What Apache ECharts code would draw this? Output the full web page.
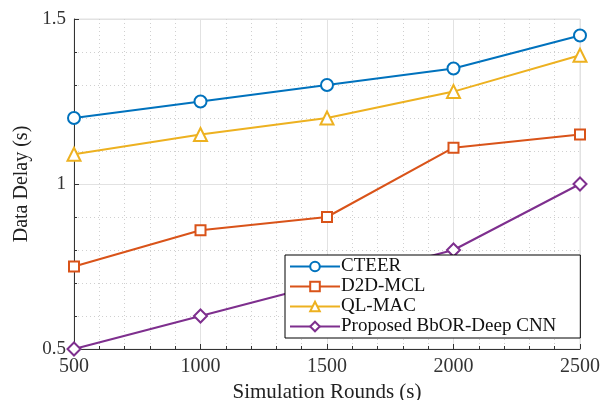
<!DOCTYPE html>
<html>
<head>
<meta charset="utf-8">
<script src="https://cdn.jsdelivr.net/npm/echarts@6/dist/echarts.min.js"></script>
<style>html,body{margin:0;padding:0;background:#fff}#c{width:603px;height:400px}</style>
</head>
<body>
<div id="c"></div>
<script>
const rounds = [500, 1000, 1500, 2000, 2500];
const cteer = [1.20, 1.25, 1.30, 1.35, 1.45];
const d2dmcl = [0.75, 0.86, 0.90, 1.11, 1.15];
const qlmac = [1.09, 1.15, 1.20, 1.28, 1.39];
const proposed = [0.50, 0.60, 0.70, 0.80, 1.00];
const seriesNames = ['CTEER', 'D2D-MCL', 'QL-MAC', 'Proposed BbOR-Deep CNN'];
const colors = ['#0072BD', '#D95319', '#EDB120', '#7E2F8E'];
const symbols = ['circle', 'rect', 'triangle', 'diamond'];
const symbolSizes = [12, 10, 13, 13];
const values = [cteer, d2dmcl, qlmac, proposed];

const font = 'Liberation Serif, Times New Roman, serif';
const chart = echarts.init(document.getElementById('c'), null, {renderer: 'canvas'});
chart.setOption({
  animation: false,
  backgroundColor: '#fff',
  grid: {left: 74, right: 23, top: 19, bottom: 51, show: true, borderColor: '#e0e0e0', borderWidth: 1,
    outerBoundsMode: 'none', containLabel: false},
  legend: {
    orient: 'vertical', left: 285, top: 255,
    backgroundColor: '#fff', borderColor: '#000', borderWidth: 1,
    padding: [2, 24, 2, 4], itemGap: 1, itemWidth: 50, itemHeight: 12,
    textStyle: {fontFamily: font, fontSize: 19, color: '#111', padding: [0, 0, 0, -4]},
    data: seriesNames
  },
  xAxis: {
    type: 'value', min: 500, max: 2500, interval: 500,
    name: 'Simulation Rounds (s)', nameLocation: 'middle', nameGap: 29,
    nameTextStyle: {fontFamily: font, fontSize: 21, color: '#222', verticalAlign: 'top', lineHeight: 21},
    axisLine: {lineStyle: {color: '#333', width: 1}},
    axisTick: {inside: true, length: 5, lineStyle: {color: '#333'}},
    minorTick: {show: true, splitNumber: 5, length: 3, lineStyle: {color: '#333'}},
    axisLabel: {fontFamily: font, fontSize: 20, color: '#333', margin: 8, formatter: v => String(v)},
    splitLine: {show: true, lineStyle: {color: '#e2e2e2', width: 1}},
    minorSplitLine: {show: true, lineStyle: {color: '#d0d0d0', type: [1, 3], width: 1}}
  },
  yAxis: {
    type: 'value', min: 0.5, max: 1.5, interval: 0.5,
    name: 'Data Delay (s)', nameLocation: 'middle', nameGap: 42,
    nameTextStyle: {fontFamily: font, fontSize: 20, color: '#222'},
    axisLine: {show: true, lineStyle: {color: '#333', width: 1}},
    axisTick: {show: true, inside: true, length: 5, lineStyle: {color: '#333'}},
    minorTick: {show: true, splitNumber: 5, length: 3, lineStyle: {color: '#333'}},
    axisLabel: {fontFamily: font, fontSize: 19, color: '#333', margin: 8,
      formatter: v => String(v)},
    splitLine: {show: true, lineStyle: {color: '#e2e2e2', width: 1}},
    minorSplitLine: {show: true, lineStyle: {color: '#d0d0d0', type: [1, 3], width: 1}}
  },
  series: seriesNames.map((n, i) => ({
    name: n, type: 'line',
    data: rounds.map((r, j) => [r, values[i][j]]),
    symbol: symbols[i], symbolSize: symbolSizes[i],
    showAllSymbol: true,
    lineStyle: {color: colors[i], width: 2},
    itemStyle: {color: '#fff', borderColor: colors[i], borderWidth: 2},
    emphasis: {disabled: true}
  }))
});
</script>
</body>
</html>
